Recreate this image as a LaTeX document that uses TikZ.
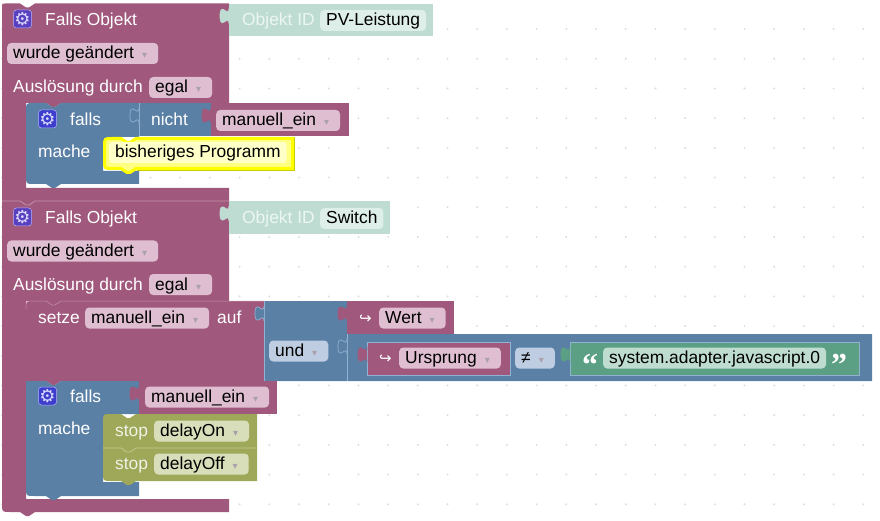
\documentclass[tikz,border=0pt]{standalone}
\usepackage{fontspec}
\usepackage{tikz}
\usepackage{xcolor}
\setmainfont{Liberation Sans}
\newfontfamily\symfont{DejaVu Sans}
\newfontfamily\quotefont{Liberation Serif}
\definecolor{plumBlock}{RGB}{160,88,124}
\definecolor{plumField}{RGB}{222,190,208}
\definecolor{plumEdge}{RGB}{196,146,172}
\definecolor{steelBlock}{RGB}{91,128,165}
\definecolor{steelField}{RGB}{190,205,225}
\definecolor{steelEdge}{RGB}{145,178,208}
\definecolor{seaBlock}{RGB}{91,160,132}
\definecolor{seaField}{RGB}{190,220,208}
\definecolor{mintBlock}{RGB}{190,220,210}
\definecolor{mintField}{RGB}{222,238,232}
\definecolor{mintText}{RGB}{236,246,242}
\definecolor{oliveBlock}{RGB}{158,168,88}
\definecolor{oliveField}{RGB}{215,222,185}
\definecolor{oliveEdge}{RGB}{196,204,150}
\definecolor{gearPlum}{RGB}{90,64,190}
\definecolor{gearSteel}{RGB}{62,62,205}
\definecolor{hiliteYellow}{RGB}{255,255,0}
\definecolor{paleYellow}{RGB}{255,255,130}
\definecolor{fieldYellow}{RGB}{255,255,200}
\definecolor{dotGrey}{RGB}{222,222,222}
\definecolor{dropGrey}{RGB}{170,160,170}
\newcommand{\dropmark}{\hspace{8pt}{\symfont\fontsize{10}{10}\selectfont\textcolor{dropGrey}{▾}}\kern5pt}
% puzzle tab on the left edge of a block: x, top y, fill, line
\newcommand{\puzzletab}[4]{%
  \filldraw[shift={(#1,#2)}, fill=#3, draw=#4, line width=.7pt]
    (0,5) .. controls (0,15) and (-9,-3) .. (-9,12.5) .. controls (-9,28) and (0,10) .. (0,20);}

\begin{document}
\begin{tikzpicture}[
    x=1pt, y=-1pt,
    txt/.style={anchor=base west, inner sep=0pt, text=white, font=\fontsize{17.4}{20}\selectfont},
    field/.style={anchor=base west, inner xsep=6pt, inner ysep=0pt, text=black, rounded corners=4pt,
      text height=16pt, text depth=5pt, font=\fontsize{17.4}{20}\selectfont},
    plainblock/.style={anchor=north west, inner sep=0pt},
    gearbox/.style={rounded corners=3pt, minimum size=18pt, inner sep=0pt, text=white!85!blue,
      draw=white!70!blue, line width=.5pt, font=\symfont\fontsize{18}{18}\selectfont},
    arrowsign/.style={anchor=base west, inner sep=0pt, text=white, font=\symfont\fontsize{15}{15}\selectfont},
    quotesign/.style={anchor=base west, inner sep=0pt, text=white, font=\quotefont\bfseries\fontsize{32}{32}\selectfont}
  ]
  \useasboundingbox[fill=white] (0,0) rectangle (880,521);
  % workspace grid
  \foreach \i in {0,...,29}
    \foreach \j in {0,...,17}
      \fill[dotGrey] ({2+29.7*\i},{-0.6+29.7*\j}) circle[radius=1.1pt];

  % first hat block
  \fill[plumBlock] (2,6.5) .. controls (2,3.5) .. (5,3.5) -- (20,3.5) -- (26,7.5) -- (29,7.5) -- (35,3.5)
    -- (229,3.5) -- (229,103) -- (61,103) -- (55,107) -- (52,107) -- (46,103) -- (26,103) -- (26,188)
    -- (229,188) -- (229,201) -- (35,201) -- (29,205) -- (26,205) -- (20,201) -- (2,201) -- cycle;
  \node[plainblock, fill=mintBlock, minimum width=204pt, minimum height=32.5pt] (idPV) at (229,3.5) {};
  \puzzletab{229}{3.5}{mintBlock}{mintBlock}
  \node[gearbox, fill=gearPlum] (gearA) at (22.5,19) {⚙};
  \node[txt] (fallsObjA) at (45,26) {Falls Objekt};
  \node[txt, text=mintText] (idLabelA) at (242,26) {Objekt ID};
  \node[field, fill=mintField] (idValA) at (320,26) {PV-Leistung};
  \node[field, fill=plumField] (changedA) at (7,59) {wurde geändert\dropmark};
  \node[txt] (triggerA) at (13,93) {Auslösung durch};
  \node[field, fill=plumField] (egalA) at (149,93) {egal\dropmark};

  % falls nicht manuell_ein
  \fill[steelBlock] (26,111) .. controls (26,103) .. (34,103) -- (46,103) -- (52,107) -- (55,107) -- (61,103)
    -- (139,103) -- (139,137) -- (103,137) -- (103,171) -- (139,171) -- (139,184) -- (61,184) -- (55,188)
    -- (52,188) -- (46,184) -- (34,184) .. controls (26,184) .. (26,176) -- cycle;
  \fill[steelBlock] (103,137) rectangle (111,145);
  \node[plainblock, fill=steelBlock, minimum width=72pt, minimum height=33pt] (notBlock) at (139,103) {};
  \node[plainblock, fill=plumBlock, minimum width=138pt, minimum height=33pt] (notValA) at (211,103) {};
  \draw[steelEdge, line width=.7pt] (139,103) -- (139,136);
  \puzzletab{139}{103}{steelBlock}{steelEdge}
  \puzzletab{211}{103}{plumBlock}{plumBlock}
  \node[gearbox, fill=gearSteel] (gearB) at (47.5,119) {⚙};
  \node[txt] (fallsA) at (70,126) {falls};
  \node[txt] (nichtA) at (151,126) {nicht};
  \node[field, fill=plumField] (manuellA) at (216,126) {manuell\_ein\dropmark};
  \node[txt] (macheA) at (38,158) {mache};

  % highlighted block
  \filldraw[fill=paleYellow, draw=hiliteYellow, line width=3pt]
    (104.5,146) .. controls (104.5,138.5) .. (112,138.5) -- (121,138.5) -- (127,142.5) -- (130,142.5) -- (136,138.5)
    -- (292.5,138.5) -- (292.5,168.5) -- (136,168.5) -- (130,172.5) -- (127,172.5) -- (121,168.5) -- (112,168.5)
    .. controls (104.5,168.5) .. (104.5,161) -- cycle;
  \draw[hiliteYellow!80!black, line width=.7pt] (294,137) -- (294,170) -- (137,170);
  \node[field, fill=fieldYellow, rounded corners=3pt] (oldProg) at (109,158) {bisheriges Programm};

  % second hat block
  \fill[plumBlock] (2,201) -- (20,201) -- (26,205) -- (29,205) -- (35,201) -- (229,201) -- (229,301)
    -- (61,301) -- (55,305) -- (52,305) -- (46,301) -- (26,301) -- (26,499) -- (229,499) -- (229,512)
    -- (35,512) -- (29,516) -- (26,516) -- (20,512) -- (10,512) .. controls (2,512) .. (2,504) -- cycle;
  \draw[plumEdge, line width=.7pt] (2,201) -- (20,201) -- (26,205) -- (29,205) -- (35,201) -- (229,201);
  \node[plainblock, fill=mintBlock, minimum width=161pt, minimum height=33pt] (idSw) at (229,201) {};
  \puzzletab{229}{201}{mintBlock}{mintBlock}
  \node[gearbox, fill=gearPlum] (gearC) at (22.5,217) {⚙};
  \node[txt] (fallsObjB) at (45,224) {Falls Objekt};
  \node[txt, text=mintText] (idLabelB) at (242,224) {Objekt ID};
  \node[field, fill=mintField] (idValB) at (320,224) {Switch};
  \node[field, fill=plumField] (changedB) at (7,256.5) {wurde geändert\dropmark};
  \node[txt] (triggerB) at (13,290) {Auslösung durch};
  \node[field, fill=plumField] (egalB) at (149,290) {egal\dropmark};

  % setze manuell_ein auf
  \fill[plumBlock] (26,309) .. controls (26,301) .. (34,301) -- (46,301) -- (52,305) -- (55,305) -- (61,301)
    -- (264,301) -- (264,381) -- (61,381) -- (55,385) -- (52,385) -- (46,381) -- (26,381) -- cycle;
  \draw[plumEdge, line width=.5pt] (26,309) .. controls (26,301) .. (34,301) -- (46,301) -- (52,305) -- (55,305) -- (61,301) -- (264,301);
  \node[txt] (setze) at (38,323.5) {setze};
  \node[field, fill=plumField] (manuellB) at (85,323.5) {manuell\_ein\dropmark};
  \node[txt] (auf) at (217,323.5) {auf};

  % und
  \fill[steelBlock] (264,301) -- (347,301) -- (347,334) -- (872,334) -- (872,381) -- (264,381) -- cycle;
  \node[plainblock, fill=plumBlock, minimum width=107pt, minimum height=33pt] (wertBlock) at (347,301) {};
  \draw[steelEdge, line width=.7pt] (264,301) -- (264,381) (347,334) -- (347,381);
  \puzzletab{264}{301}{steelBlock}{steelEdge}
  \puzzletab{347}{301}{plumBlock}{plumBlock}
  \puzzletab{347}{334}{steelBlock}{steelEdge}
  \node[field, fill=steelField] (undOp) at (269,356.5) {und\dropmark};
  \node[arrowsign] (wertSign) at (359,323) {↪};
  \node[field, fill=plumField] (wert) at (379,323.5) {Wert\dropmark};
  \node[plainblock, fill=plumBlock, draw=steelEdge, line width=.5pt, minimum width=143pt, minimum height=33pt] (urspBlock) at (367,342) {};
  \puzzletab{367}{342}{plumBlock}{plumBlock}
  \node[arrowsign] (urspSign) at (379,363) {↪};
  \node[field, fill=plumField] (ursprung) at (399,363.5) {Ursprung\dropmark};
  \node[field, fill=steelField] (neqOp) at (515,363.5) {≠\dropmark};
  \node[plainblock, fill=seaBlock, draw=steelEdge, line width=.5pt, minimum width=289pt, minimum height=33pt] (textBlock) at (570,342) {};
  \puzzletab{570}{342}{seaBlock}{seaBlock}
  \node[quotesign] (quoteOpen) at (582,375) {“};
  \node[field, fill=seaField] (adapter) at (603,363.5) {system.adapter.javascript.0};
  \node[quotesign] (quoteClose) at (831,375) {”};

  % falls manuell_ein
  \fill[steelBlock] (26,381) -- (46,381) -- (52,385) -- (55,385) -- (61,381) -- (139,381) -- (139,414)
    -- (103,414) -- (103,482) -- (139,482) -- (139,496) -- (61,496) -- (55,500) -- (52,500) -- (46,496)
    -- (34,496) .. controls (26,496) .. (26,488) -- cycle;
  \fill[steelBlock] (103,414) rectangle (111,422);
  \node[plainblock, fill=plumBlock, minimum width=138pt, minimum height=33pt] (condBlock) at (139,381) {};
  \puzzletab{139}{381}{plumBlock}{plumBlock}
  \node[gearbox, fill=gearSteel] (gearD) at (47.5,396) {⚙};
  \node[txt] (fallsB) at (70,402.5) {falls};
  \node[field, fill=plumField] (manuellC) at (145,402.5) {manuell\_ein\dropmark};
  \node[txt] (macheB) at (38,434.5) {mache};

  % stop blocks
  \fill[oliveBlock] (103,422) .. controls (103,414) .. (111,414) -- (121,414) -- (127,418) -- (130,418) -- (136,414)
    -- (257,414) -- (257,481) -- (136,481) -- (130,485) -- (127,485) -- (121,481) -- (111,481)
    .. controls (103,481) .. (103,473) -- cycle;
  \draw[oliveEdge, line width=.7pt] (103,448) -- (121,448) -- (127,452) -- (130,452) -- (136,448) -- (257,448);
  \node[txt, text=white!85!oliveBlock] (stopA) at (115,436.5) {stop};
  \node[field, fill=oliveField] (delayOn) at (154,436.5) {delayOn\dropmark};
  \node[txt, text=white!85!oliveBlock] (stopB) at (115,469.5) {stop};
  \node[field, fill=oliveField] (delayOff) at (154,469.5) {delayOff\dropmark};
\end{tikzpicture}
\end{document}
